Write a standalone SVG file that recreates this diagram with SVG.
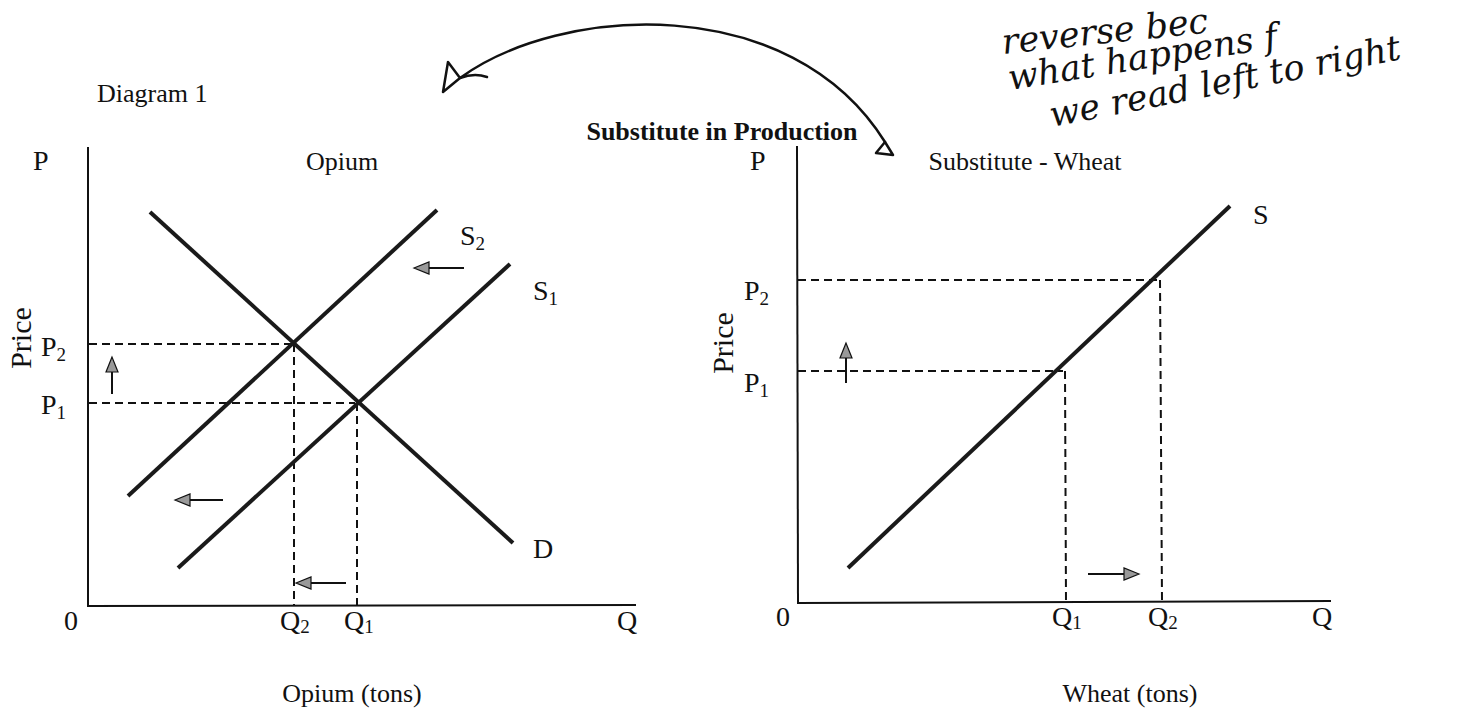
<svg xmlns="http://www.w3.org/2000/svg" width="1469" height="717" viewBox="0 0 1469 717">
<defs>
<style>
.t{font-family:"Liberation Serif","Times New Roman",serif;fill:#111;}
.lbl{font-size:28px;}
.ttl{font-size:26px;}
.bold{font-size:26px;font-weight:bold;}
.price{font-size:30px;}
.sub{font-size:19px;}
.curve{stroke:#1a1a1a;stroke-width:4;fill:none;stroke-linecap:butt;}
.axis{stroke:#111;stroke-width:2;fill:none;}
.dash{stroke:#111;stroke-width:2;stroke-dasharray:8 5;fill:none;}
.shaft{stroke:#111;stroke-width:2;fill:none;}
.head{fill:#999;stroke:#111;stroke-width:1.2;}
.hand{font-family:"DejaVu Serif","Liberation Serif",serif;font-style:italic;font-size:35px;fill:#111;}
.pen{stroke:#111;stroke-width:2.5;fill:none;stroke-linecap:round;stroke-linejoin:round;}
</style>
</defs>
<rect width="1469" height="717" fill="#fff"/>

<g id="header">
<text class="t ttl" x="97" y="102">Diagram 1</text>
<text class="t bold" x="722" y="140" text-anchor="middle">Substitute in Production</text>
</g>

<g id="handwriting">
<text class="hand" font-size="32" transform="translate(1003,54) rotate(-6)">reverse bec</text>
<text class="hand" transform="translate(1010,90) rotate(-9)">what happens f</text>
<text class="hand" transform="translate(1052,127) rotate(-11)">we read left to right</text>
</g>

<g id="connectors">
<path class="pen" d="M460,78 C560,5 790,-10 885,142"/>
<path class="pen" d="M448,62 L443,92 L460,78 Z M460,78 C468,75 478,74 487,77"/>
<path class="pen" d="M885,142 L876,153 L893,155 Z"/>
</g>

<g id="chart-opium">
<text class="t lbl" x="33" y="170">P</text>
<line class="axis" x1="88" y1="147" x2="88" y2="607"/>
<line class="axis" x1="87" y1="606" x2="636" y2="605"/>
<text class="t ttl" x="342" y="170" text-anchor="middle">Opium</text>
<text class="t price" transform="translate(31,338) rotate(-90)" text-anchor="middle">Price</text>
<line class="dash" x1="89" y1="344" x2="292" y2="344"/>
<line class="dash" x1="89" y1="403" x2="355" y2="403"/>
<line class="dash" x1="294" y1="344" x2="294" y2="606"/>
<line class="dash" x1="357" y1="403" x2="357" y2="606"/>
<line class="curve" x1="150" y1="212" x2="513" y2="543"/>
<line class="curve" x1="128" y1="496" x2="437" y2="210"/>
<line class="curve" x1="178" y1="568" x2="510" y2="264"/>
<text class="t lbl" x="460" y="245">S<tspan class="sub" dy="5">2</tspan></text>
<text class="t lbl" x="533" y="300">S<tspan class="sub" dy="5">1</tspan></text>
<text class="t lbl" x="533" y="558">D</text>
<text class="t lbl" x="41" y="356">P<tspan class="sub" dy="5">2</tspan></text>
<text class="t lbl" x="41" y="414">P<tspan class="sub" dy="5">1</tspan></text>
<text class="t lbl" x="64" y="630">0</text>
<text class="t lbl" x="280" y="630">Q<tspan class="sub" dy="3">2</tspan></text>
<text class="t lbl" x="344" y="630">Q<tspan class="sub" dy="3">1</tspan></text>
<text class="t lbl" x="617" y="630">Q</text>
<text class="t ttl" x="352" y="702" text-anchor="middle">Opium (tons)</text>
<line class="shaft" x1="112" y1="394" x2="112" y2="370"/>
<path class="head" d="M112,357 L106,372 L118,372 Z"/>
<line class="shaft" x1="464" y1="268" x2="428" y2="268"/>
<path class="head" d="M414,268 L429,262 L429,274 Z"/>
<line class="shaft" x1="223" y1="500" x2="189" y2="500"/>
<path class="head" d="M175,500 L190,494 L190,506 Z"/>
<line class="shaft" x1="346" y1="583" x2="310" y2="583"/>
<path class="head" d="M296,583 L311,577 L311,589 Z"/>
</g>

<g id="chart-wheat">
<text class="t lbl" x="750" y="170">P</text>
<line class="axis" x1="797" y1="146" x2="798" y2="604"/>
<line class="axis" x1="797" y1="603" x2="1331" y2="601"/>
<text class="t ttl" x="1025" y="170" text-anchor="middle">Substitute - Wheat</text>
<text class="t price" transform="translate(733,343) rotate(-90)" text-anchor="middle">Price</text>
<line class="dash" x1="798" y1="280" x2="1159" y2="280"/>
<line class="dash" x1="798" y1="371" x2="1063" y2="371"/>
<line class="dash" x1="1065" y1="371" x2="1066" y2="603"/>
<line class="dash" x1="1160" y1="280" x2="1162" y2="602"/>
<line class="curve" x1="848" y1="568" x2="1230" y2="206"/>
<text class="t lbl" x="1253" y="224">S</text>
<text class="t lbl" x="744" y="300">P<tspan class="sub" dy="5">2</tspan></text>
<text class="t lbl" x="744" y="392">P<tspan class="sub" dy="5">1</tspan></text>
<text class="t lbl" x="776" y="626">0</text>
<text class="t lbl" x="1052" y="626">Q<tspan class="sub" dy="3">1</tspan></text>
<text class="t lbl" x="1148" y="626">Q<tspan class="sub" dy="3">2</tspan></text>
<text class="t lbl" x="1312" y="626">Q</text>
<text class="t ttl" x="1130" y="702" text-anchor="middle">Wheat (tons)</text>
<line class="shaft" x1="846" y1="383" x2="846" y2="357"/>
<path class="head" d="M846,343 L840,358 L852,358 Z"/>
<line class="shaft" x1="1088" y1="574" x2="1125" y2="574"/>
<path class="head" d="M1139,574 L1124,568 L1124,580 Z"/>
</g>
</svg>
